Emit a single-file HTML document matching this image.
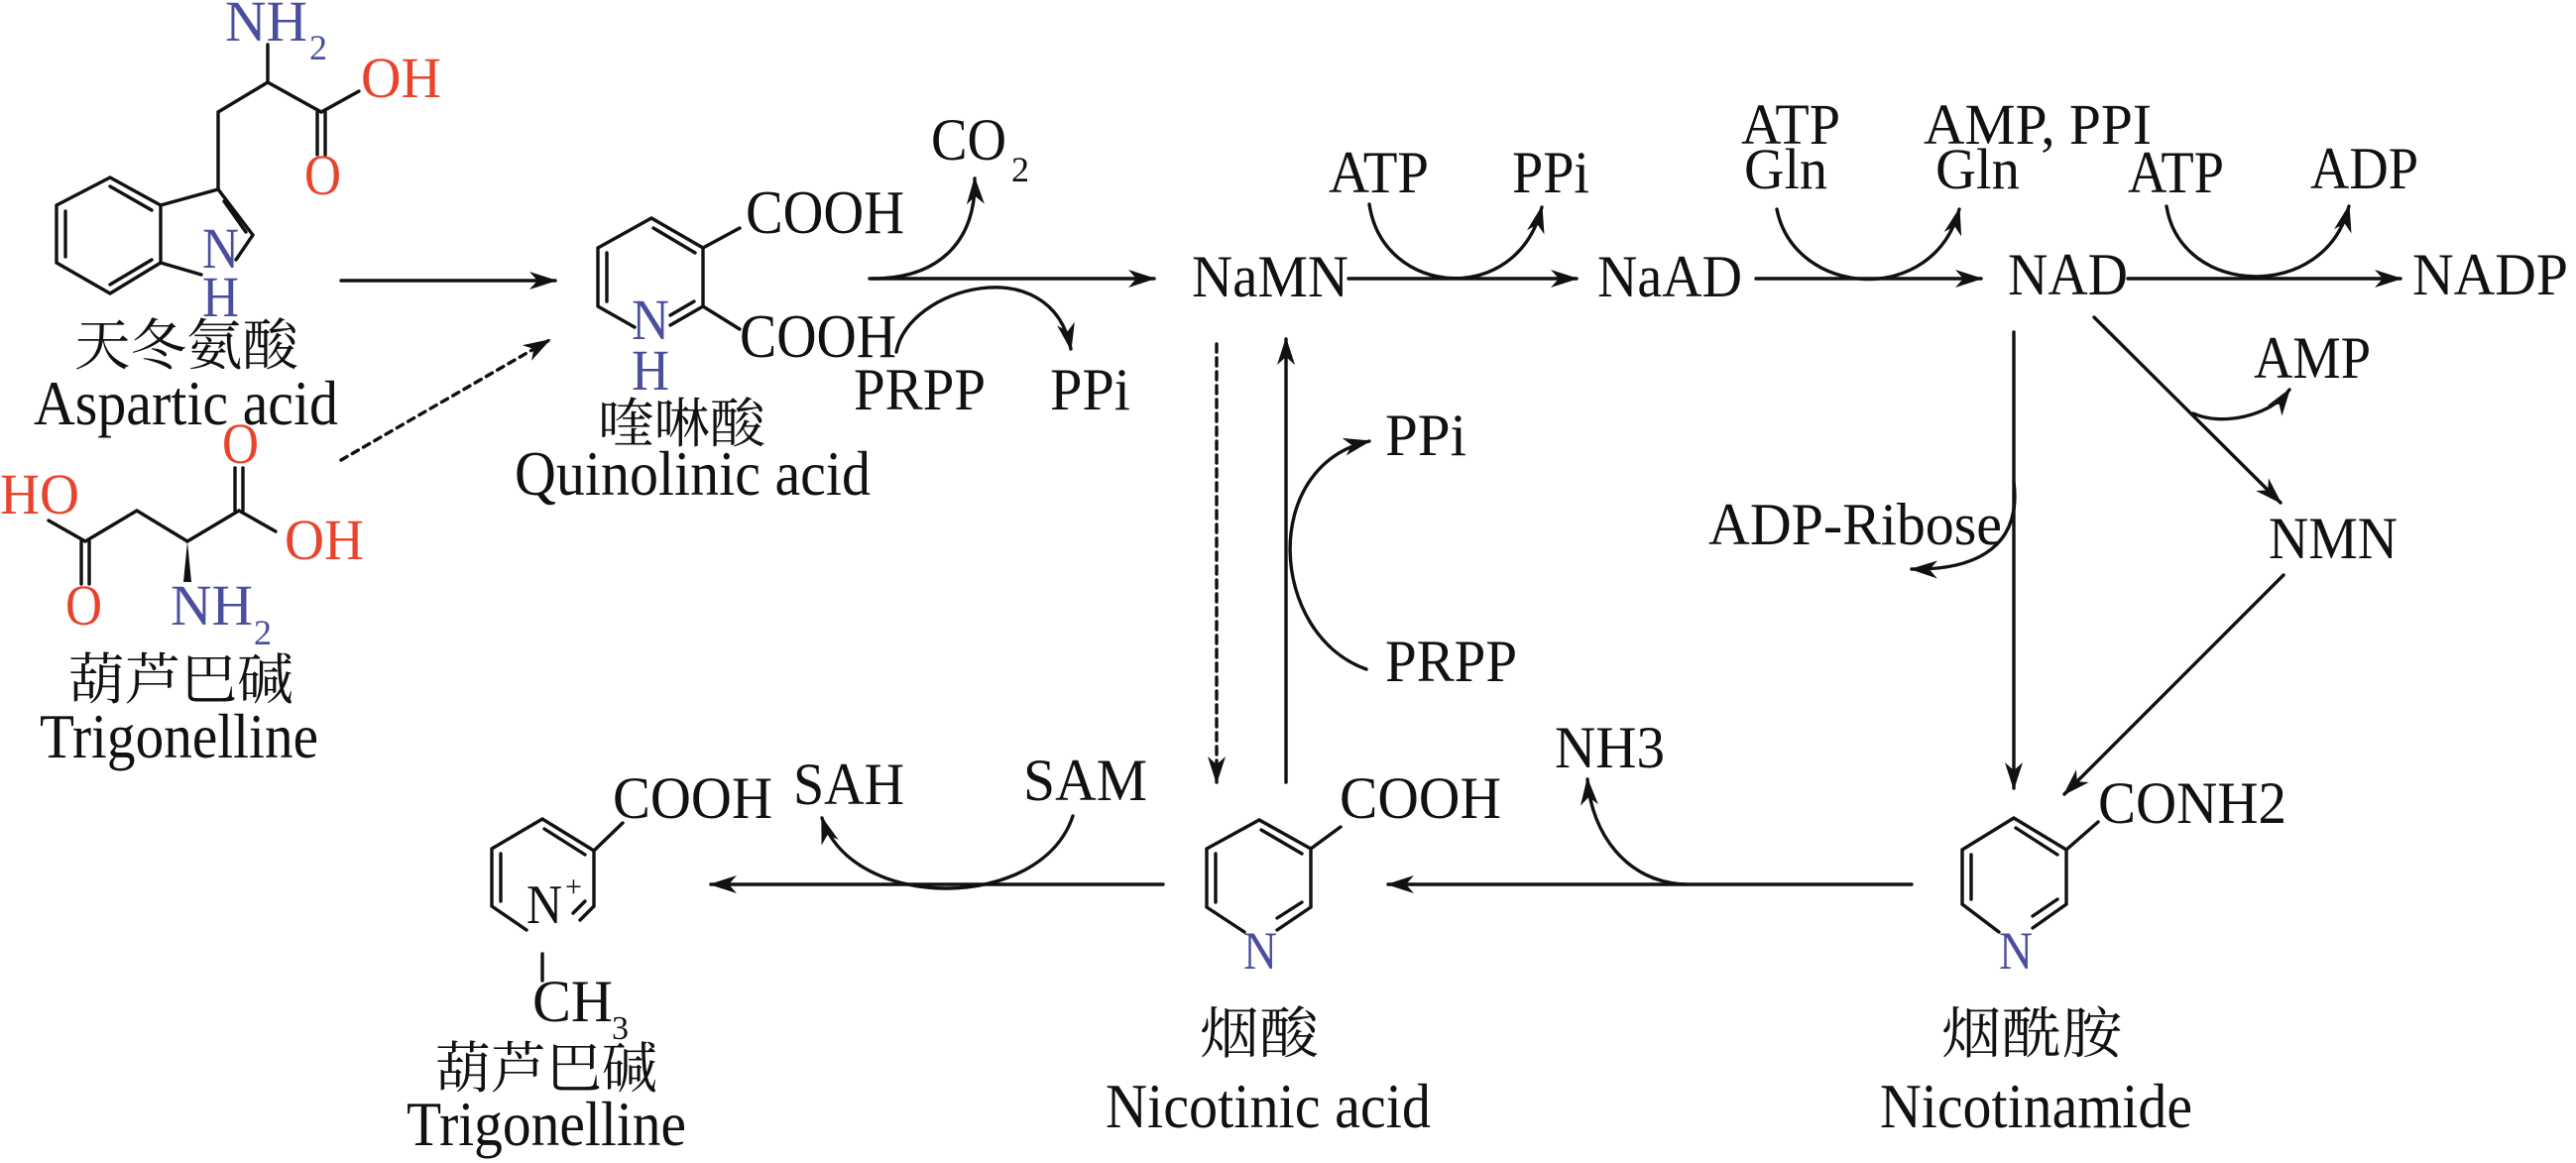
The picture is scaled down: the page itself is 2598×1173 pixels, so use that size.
<!DOCTYPE html>
<html><head><meta charset="utf-8"><style>
html,body{margin:0;padding:0;background:#fff;}
svg{display:block;}
text{font-family:"Liberation Serif","Noto Serif CJK SC","Noto Sans CJK SC",serif;fill:#111;}
.b{fill:#4a4f9c}.r{fill:#e8432d}
</style></head><body>
<svg width="2598" height="1173" viewBox="0 0 2598 1173" xmlns="http://www.w3.org/2000/svg">
<defs>
<marker id="a" markerUnits="userSpaceOnUse" markerWidth="28" markerHeight="18" refX="26" refY="9" orient="auto"><path d="M0,0 L28,9 L0,18 L8,9z" fill="#111"/></marker>
</defs>
<g stroke="#111" stroke-width="3.4" fill="none" stroke-linecap="round">
<polyline points="111,179 162,207 162,265 111,296 57,265 57,207 111,179"/>
<line x1="66" y1="213" x2="66" y2="259"/><line x1="111" y1="188" x2="153" y2="212"/><line x1="111" y1="287" x2="153" y2="262"/>
<polyline points="162,207 220,191 255,237 238,262"/><line x1="226" y1="203" x2="248" y2="234"/>
<line x1="162" y1="265" x2="203" y2="277"/>
<polyline points="220,191 220,113 270,83 324,113 362,92"/><line x1="270" y1="83" x2="270" y2="45"/>
<line x1="320" y1="113" x2="320" y2="156"/><line x1="328" y1="113" x2="328" y2="156"/>
<polyline points="49,525 86,546 138,515 189,546 241,515 278,536"/>
<line x1="82" y1="546" x2="82" y2="589"/><line x1="90" y1="546" x2="90" y2="589"/>
<line x1="237" y1="515" x2="237" y2="472"/><line x1="245" y1="515" x2="245" y2="472"/>
<line x1="344" y1="283" x2="560" y2="283" marker-end="url(#a)"/>
<line x1="344" y1="464" x2="554" y2="343" stroke-dasharray="7,6" marker-end="url(#a)"/>
<polyline points="640,330 603,309 603,250 657,220 709,250 709,309 676,328"/>
<line x1="612" y1="255" x2="612" y2="304"/><line x1="659" y1="230" x2="701" y2="255"/><line x1="700" y1="304" x2="676" y2="318"/>
<line x1="709" y1="250" x2="746" y2="230"/><line x1="709" y1="309" x2="746" y2="332"/>
<line x1="877" y1="281" x2="1164" y2="281" marker-end="url(#a)"/>
<path d="M880,281 C950,281 985,240 983,180" marker-end="url(#a)"/>
<path d="M904,355 C915,290 1060,250 1080,352" marker-end="url(#a)"/>
<line x1="1360" y1="281" x2="1590" y2="281" marker-end="url(#a)"/>
<path d="M1381,206 C1395,300 1530,310 1555,209" marker-end="url(#a)"/>
<line x1="1771" y1="281" x2="1998" y2="281" marker-end="url(#a)"/>
<path d="M1792,211 C1810,300 1950,310 1976,211" marker-end="url(#a)"/>
<line x1="2146" y1="281" x2="2421" y2="281" marker-end="url(#a)"/>
<path d="M2185,208 C2200,300 2345,305 2369,208" marker-end="url(#a)"/>
<line x1="1227" y1="347" x2="1227" y2="789" stroke-dasharray="8,6" marker-end="url(#a)"/>
<line x1="1297" y1="789" x2="1297" y2="342" marker-end="url(#a)"/>
<path d="M1378,675 C1280,640 1270,470 1381,445" marker-end="url(#a)"/>
<line x1="2031" y1="335" x2="2031" y2="795" marker-end="url(#a)"/>
<path d="M2031,486 C2040,560 1980,575 1928,574" marker-end="url(#a)"/>
<line x1="2112" y1="320" x2="2300" y2="507" marker-end="url(#a)"/>
<path d="M2212,417 C2240,430 2290,420 2309,393" marker-end="url(#a)"/>
<line x1="2303" y1="580" x2="2082" y2="801" marker-end="url(#a)"/>
<line x1="1928" y1="892" x2="1400" y2="892" marker-end="url(#a)"/>
<path d="M1700,892 C1640,890 1605,840 1601,786" marker-end="url(#a)"/>
<line x1="1173" y1="892" x2="717" y2="892" marker-end="url(#a)"/>
<path d="M1082,823 C1050,920 860,920 829,825" marker-end="url(#a)"/>
<polyline points="1255,940 1217,915 1217,856 1270,827 1322,856 1322,915 1288,938"/>
<line x1="1226" y1="861" x2="1226" y2="910"/><line x1="1272" y1="837" x2="1313" y2="861"/><line x1="1313" y1="910" x2="1288" y2="926"/>
<line x1="1322" y1="856" x2="1352" y2="834"/>
<polyline points="2016,940 1979,912 1979,857 2031,825 2084,857 2084,912 2050,936"/>
<line x1="1988" y1="862" x2="1988" y2="907"/><line x1="2033" y1="835" x2="2075" y2="862"/><line x1="2075" y1="907" x2="2050" y2="924"/>
<line x1="2084" y1="857" x2="2116" y2="829"/>
<polyline points="531,938 496,914 496,856 547,826 599,858 599,914 585,928"/>
<line x1="505" y1="861" x2="505" y2="909"/><line x1="549" y1="836" x2="590" y2="862"/><line x1="590" y1="909" x2="578" y2="921"/>
<line x1="599" y1="858" x2="628" y2="830"/>
<line x1="547" y1="962" x2="547" y2="989"/>
</g>
<polygon points="189,546 185,587 193,587" fill="#111"/>
<text x="227" y="41" class="b" font-size="58" textLength="83" lengthAdjust="spacingAndGlyphs">NH</text>
<text x="312" y="60" class="b" font-size="36">2</text>
<text x="364" y="98" class="r" font-size="58" textLength="81" lengthAdjust="spacingAndGlyphs">OH</text>
<text x="307" y="196" class="r" font-size="58" textLength="37" lengthAdjust="spacingAndGlyphs">O</text>
<text x="204" y="270" class="b" font-size="58" textLength="37" lengthAdjust="spacingAndGlyphs">N</text>
<text x="204" y="319" class="b" font-size="58" textLength="37" lengthAdjust="spacingAndGlyphs">H</text>
<text x="75" y="368" font-size="56" textLength="226" lengthAdjust="spacingAndGlyphs">天冬氨酸</text>
<text x="34" y="428" font-size="64" textLength="307" lengthAdjust="spacingAndGlyphs">Aspartic acid</text>
<text x="0" y="518" class="r" font-size="58" textLength="80" lengthAdjust="spacingAndGlyphs">HO</text>
<text x="287" y="564" class="r" font-size="58" textLength="80" lengthAdjust="spacingAndGlyphs">OH</text>
<text x="224" y="467" class="r" font-size="58" textLength="37" lengthAdjust="spacingAndGlyphs">O</text>
<text x="66" y="630" class="r" font-size="58" textLength="37" lengthAdjust="spacingAndGlyphs">O</text>
<text x="172" y="630" class="b" font-size="58" textLength="83" lengthAdjust="spacingAndGlyphs">NH</text>
<text x="256" y="650" class="b" font-size="36">2</text>
<text x="69" y="705" font-size="56" textLength="227" lengthAdjust="spacingAndGlyphs">葫芦巴碱</text>
<text x="40" y="764" font-size="64" textLength="281" lengthAdjust="spacingAndGlyphs">Trigonelline</text>
<text x="752" y="235" font-size="62" textLength="160" lengthAdjust="spacingAndGlyphs">COOH</text>
<text x="746" y="360" font-size="62" textLength="158" lengthAdjust="spacingAndGlyphs">COOH</text>
<text x="637" y="342" class="b" font-size="58" textLength="38" lengthAdjust="spacingAndGlyphs">N</text>
<text x="637" y="393" class="b" font-size="58" textLength="38" lengthAdjust="spacingAndGlyphs">H</text>
<text x="603" y="446" font-size="54" textLength="169" lengthAdjust="spacingAndGlyphs">喹啉酸</text>
<text x="519" y="499" font-size="64" textLength="359" lengthAdjust="spacingAndGlyphs">Quinolinic acid</text>
<text x="939" y="161" font-size="60" textLength="76" lengthAdjust="spacingAndGlyphs">CO</text>
<text x="1020" y="183" font-size="36">2</text>
<text x="861" y="413" font-size="60" textLength="133" lengthAdjust="spacingAndGlyphs">PRPP</text>
<text x="1059" y="413" font-size="60" textLength="81" lengthAdjust="spacingAndGlyphs">PPi</text>
<text x="1202" y="299" font-size="60" textLength="158" lengthAdjust="spacingAndGlyphs">NaMN</text>
<text x="1340" y="194" font-size="60" textLength="101" lengthAdjust="spacingAndGlyphs">ATP</text>
<text x="1525" y="194" font-size="60" textLength="78" lengthAdjust="spacingAndGlyphs">PPi</text>
<text x="1611" y="299" font-size="60" textLength="146" lengthAdjust="spacingAndGlyphs">NaAD</text>
<text x="1756" y="145" font-size="58" textLength="100" lengthAdjust="spacingAndGlyphs">ATP</text>
<text x="1759" y="190" font-size="58" textLength="84" lengthAdjust="spacingAndGlyphs">Gln</text>
<text x="1940" y="145" font-size="58" textLength="230" lengthAdjust="spacingAndGlyphs">AMP, PPI</text>
<text x="1952" y="190" font-size="58" textLength="85" lengthAdjust="spacingAndGlyphs">Gln</text>
<text x="2025" y="297" font-size="60" textLength="121" lengthAdjust="spacingAndGlyphs">NAD</text>
<text x="2146" y="194" font-size="60" textLength="97" lengthAdjust="spacingAndGlyphs">ATP</text>
<text x="2330" y="190" font-size="60" textLength="109" lengthAdjust="spacingAndGlyphs">ADP</text>
<text x="2433" y="297" font-size="60" textLength="157" lengthAdjust="spacingAndGlyphs">NADP</text>
<text x="1397" y="459" font-size="60" textLength="82" lengthAdjust="spacingAndGlyphs">PPi</text>
<text x="1397" y="687" font-size="60" textLength="133" lengthAdjust="spacingAndGlyphs">PRPP</text>
<text x="1723" y="549" font-size="60" textLength="296" lengthAdjust="spacingAndGlyphs">ADP-Ribose</text>
<text x="2273" y="381" font-size="60" textLength="118" lengthAdjust="spacingAndGlyphs">AMP</text>
<text x="2288" y="563" font-size="60" textLength="130" lengthAdjust="spacingAndGlyphs">NMN</text>
<text x="2116" y="830" font-size="60" textLength="190" lengthAdjust="spacingAndGlyphs">CONH2</text>
<text x="2016" y="977" class="b" font-size="54" textLength="34" lengthAdjust="spacingAndGlyphs">N</text>
<text x="1958" y="1062" font-size="56" textLength="182" lengthAdjust="spacingAndGlyphs">烟酰胺</text>
<text x="1896" y="1137" font-size="64" textLength="315" lengthAdjust="spacingAndGlyphs">Nicotinamide</text>
<text x="1568" y="774" font-size="60" textLength="111" lengthAdjust="spacingAndGlyphs">NH3</text>
<text x="1351" y="825" font-size="60" textLength="163" lengthAdjust="spacingAndGlyphs">COOH</text>
<text x="1254" y="977" class="b" font-size="54" textLength="34" lengthAdjust="spacingAndGlyphs">N</text>
<text x="1210" y="1062" font-size="56" textLength="120" lengthAdjust="spacingAndGlyphs">烟酸</text>
<text x="1115" y="1137" font-size="64" textLength="328" lengthAdjust="spacingAndGlyphs">Nicotinic acid</text>
<text x="1032" y="807" font-size="60" textLength="125" lengthAdjust="spacingAndGlyphs">SAM</text>
<text x="800" y="811" font-size="60" textLength="112" lengthAdjust="spacingAndGlyphs">SAH</text>
<text x="618" y="825" font-size="60" textLength="161" lengthAdjust="spacingAndGlyphs">COOH</text>
<text x="531" y="931" font-size="56" textLength="36" lengthAdjust="spacingAndGlyphs">N</text>
<text x="570" y="904" font-size="30">+</text>
<text x="537" y="1030" font-size="60" textLength="81" lengthAdjust="spacingAndGlyphs">CH</text>
<text x="617" y="1048" font-size="34">3</text>
<text x="439" y="1097" font-size="56" textLength="224" lengthAdjust="spacingAndGlyphs">葫芦巴碱</text>
<text x="410" y="1155" font-size="64" textLength="282" lengthAdjust="spacingAndGlyphs">Trigonelline</text>
</svg>
</body></html>
